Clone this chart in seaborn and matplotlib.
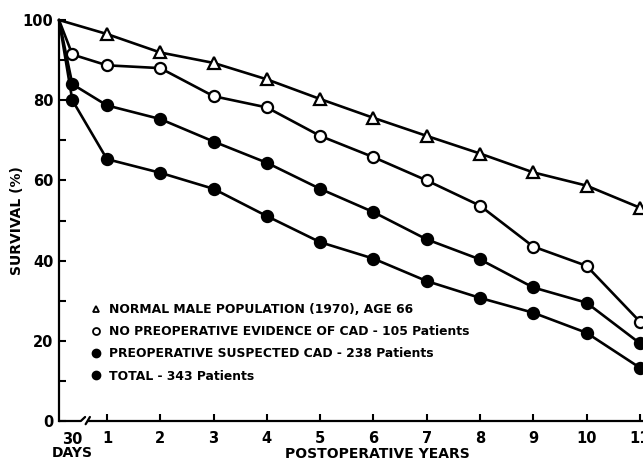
import matplotlib
matplotlib.use("Agg")
import matplotlib.pyplot as plt
from matplotlib.lines import Line2D
from matplotlib.ticker import MultipleLocator
import seaborn as sns

# x positions on the broken axis: start (0), 30 days, then postoperative years 1..11
x_start = 0.1
x_30days = 0.35
years = [1, 2, 3, 4, 5, 6, 7, 8, 9, 10, 11]

# survival (%)
normal_male = [96.5, 91.9, 89.3, 85.2, 80.3, 75.6, 71.1, 66.7, 62.0, 58.7, 53.2]
no_cad_30d = 91.4
no_cad = [88.7, 88.0, 81.0, 78.2, 71.1, 65.8, 60.0, 53.7, 43.5, 38.7, 24.8]
total_30d = 84.0
total = [78.7, 75.3, 69.7, 64.4, 57.9, 52.1, 45.3, 40.3, 33.3, 29.5, 19.4]
suspected_30d = 80.0
suspected = [65.3, 61.9, 57.9, 51.1, 44.6, 40.5, 34.9, 30.7, 27.0, 22.0, 13.3]

legend_labels = [
    "NORMAL MALE POPULATION (1970), AGE 66",
    "NO PREOPERATIVE EVIDENCE OF CAD - 105 Patients",
    "PREOPERATIVE SUSPECTED CAD - 238 Patients",
    "TOTAL - 343 Patients",
]

sns.set_style("ticks")
plt.rcParams["font.family"] = ["DejaVu Sans"]
plt.rcParams["font.weight"] = "bold"
plt.rcParams["text.color"] = "black"
plt.rcParams["axes.labelcolor"] = "black"
plt.rcParams["xtick.color"] = "black"
plt.rcParams["ytick.color"] = "black"

fig = plt.figure(figsize=(6.43, 4.63), dpi=100)
ax = fig.add_axes([59 / 643, 42 / 463, 584 / 643, 401 / 463])

line_kw = dict(color="black", linewidth=1.9, markersize=8, markeredgewidth=1.6,
               markeredgecolor="black", clip_on=False, zorder=3)

sns.lineplot(x=[x_start] + years, y=[100] + normal_male, marker="^",
             markerfacecolor="white", ax=ax, **line_kw)
sns.lineplot(x=[x_start, x_30days] + years, y=[100, no_cad_30d] + no_cad, marker="o",
             markerfacecolor="white", ax=ax, **line_kw)
sns.lineplot(x=[x_start, x_30days] + years, y=[100, total_30d] + total, marker="o",
             markerfacecolor="black", ax=ax, **line_kw)
sns.lineplot(x=[x_start, x_30days] + years, y=[100, suspected_30d] + suspected, marker="o",
             markerfacecolor="black", ax=ax, **line_kw)
# no marker at the common starting point
for ln in ax.get_lines():
    n = len(ln.get_xdata())
    ln.set_markevery(list(range(1, n)))

ax.set_xlim(x_start, 11.06)
ax.set_ylim(0, 100)

# axes styling
for s in ["top", "right", "bottom"]:
    ax.spines[s].set_visible(False)
ax.spines["left"].set_linewidth(1.6)
ax.spines["left"].set_color("black")
ax.spines["left"].set_bounds(0, 100)

# broken x axis
tr = ax.get_xaxis_transform()
ax.plot([x_start, 0.51, 0.59], [0, 0, 0.01], transform=tr, color="black", lw=1.6, clip_on=False)
ax.plot([0.6, 0.68], [-0.008, 0.01], transform=tr, color="black", lw=1.6, clip_on=False)
ax.plot([0.65, 11.06], [0, 0], transform=tr, color="black", lw=1.6, clip_on=False)

ax.set_xticks(years)
ax.set_xticklabels([str(y) for y in years])
ax.set_yticks([0, 20, 40, 60, 80, 100])
ax.yaxis.set_minor_locator(MultipleLocator(10))
ax.tick_params(axis="both", which="major", direction="in", length=5, width=1.5,
               labelsize=10.5, pad=4)
ax.tick_params(axis="x", which="major", pad=7)
ax.tick_params(axis="y", which="minor", direction="in", length=5, width=1.5)
ax.tick_params(axis="x", which="minor", length=0)
for lab in ax.get_xticklabels() + ax.get_yticklabels():
    lab.set_fontweight("bold")

ax.text(x_30days, -0.028, "30", transform=tr, ha="center", va="top",
        fontsize=10.5, fontweight="bold")
ax.text(x_30days, -0.063, "DAYS", transform=tr, ha="center", va="top",
        fontsize=10, fontweight="bold")

ax.set_xlabel("POSTOPERATIVE YEARS", fontsize=10, fontweight="bold", x=0.545, labelpad=1)
ax.set_ylabel("SURVIVAL (%)", fontsize=10, fontweight="bold", labelpad=-1)

handles = [
    Line2D([], [], marker="^", linestyle="none", markerfacecolor="white",
           markeredgecolor="black", markersize=5, markeredgewidth=1.3),
    Line2D([], [], marker="o", linestyle="none", markerfacecolor="white",
           markeredgecolor="black", markersize=5, markeredgewidth=1.3),
    Line2D([], [], marker="o", linestyle="none", markerfacecolor="black",
           markeredgecolor="black", markersize=6),
    Line2D([], [], marker="o", linestyle="none", markerfacecolor="black",
           markeredgecolor="black", markersize=6),
]
leg = ax.legend(handles, legend_labels, loc="upper left", bbox_to_anchor=(0.045, 0.31),
                frameon=False, handlelength=0.8, handletextpad=0.6, labelspacing=0.75,
                borderpad=0, prop={"size": 8.9, "weight": "bold"})

fig.savefig("out.png", dpi=100)
